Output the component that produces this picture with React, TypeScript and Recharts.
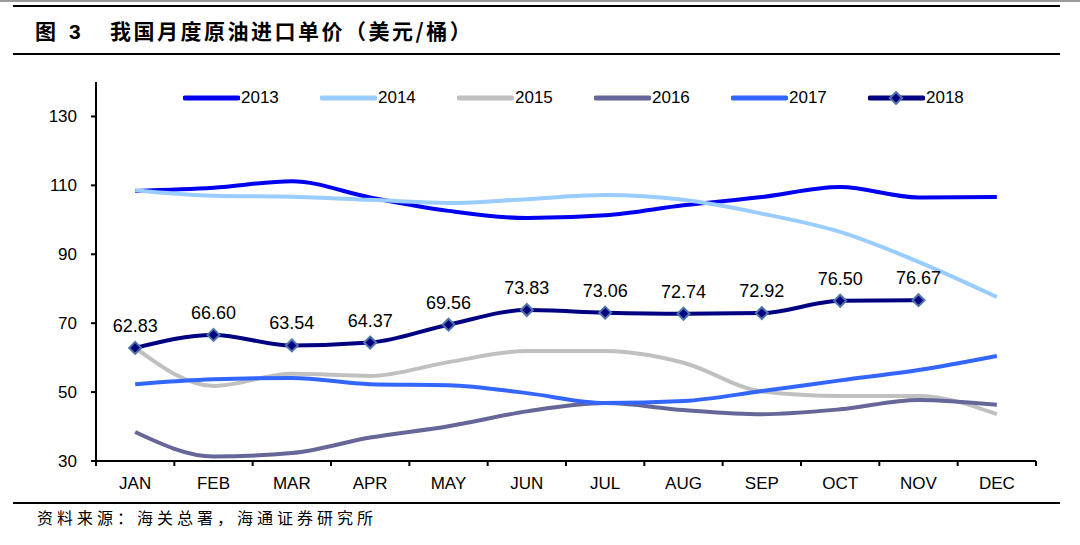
import React from "react";
import { LineChart, Line, XAxis, YAxis, Legend, LabelList } from "recharts";

const months = ["JAN", "FEB", "MAR", "APR", "MAY", "JUN", "JUL", "AUG", "SEP", "OCT", "NOV", "DEC"];
const y2013 = [108.4, 109.3, 111.2, 106.5, 102.6, 100.5, 101.3, 104.2, 106.6, 109.5, 106.5, 106.6];
const y2014 = [108.6, 107.0, 106.7, 105.8, 104.9, 106.0, 107.2, 105.8, 101.8, 96.5, 87.8, 77.6];
const y2015 = [62.83, 51.8, 55.3, 54.7, 58.7, 61.9, 61.9, 58.5, 50.2, 48.9, 48.9, 43.6];
const y2016 = [38.4, 31.3, 32.3, 36.8, 40.1, 44.4, 46.8, 44.8, 43.6, 45.0, 47.7, 46.3];
const y2017 = [52.3, 53.7, 54.1, 52.3, 52.0, 49.7, 46.8, 47.4, 50.3, 53.4, 56.4, 60.5];
const y2018: (number | null)[] = [62.83, 66.6, 63.54, 64.37, 69.56, 73.83, 73.06, 72.74, 72.92, 76.5, 76.67, null];
const yTicks = [30, 50, 70, 90, 110, 130];
const boundaryTicks = [0, 1, 2, 3, 4, 5, 6, 7, 8, 9, 10, 11, 12];

const series = [
  { key: "y2013", name: "2013", color: "#0000F0" },
  { key: "y2014", name: "2014", color: "#99CCFF" },
  { key: "y2015", name: "2015", color: "#C0C0C0" },
  { key: "y2016", name: "2016", color: "#666699" },
  { key: "y2017", name: "2017", color: "#3366FF" },
  { key: "y2018", name: "2018", color: "#000080" },
];

const data = months.map((m, i) => ({
  x: i + 0.5,
  month: m,
  y2013: y2013[i],
  y2014: y2014[i],
  y2015: y2015[i],
  y2016: y2016[i],
  y2017: y2017[i],
  y2018: y2018[i],
}));

const FONT = "'Liberation Sans', Arial, sans-serif";
const CJK = "'Noto Sans CJK SC', 'Noto Sans', sans-serif";

const Diamond = (props: any) => {
  const { cx, cy, index } = props;
  if (cx == null || cy == null || props.value == null) return <g key={"d" + index} />;
  const r = 6;
  return (
    <path
      key={"d" + index}
      d={`M${cx},${cy - r} L${cx + r},${cy} L${cx},${cy + r} L${cx - r},${cy} Z`}
      fill="#000080"
      stroke="#4F74A8"
      strokeWidth={2}
    />
  );
};

const renderLegend = (props: any) => {
  const { payload } = props;
  return (
    <div style={{ display: "flex", flexDirection: "row" }}>
      {(payload || []).map((p: any, i: number) => (
        <div key={i} style={{ width: 137, display: "flex", alignItems: "center", height: 20 }}>
          <svg width={57} height={14} style={{ display: "block" }}>
            <line x1={2} y1={7} x2={55} y2={7} stroke={p.color} strokeWidth={5} strokeLinecap="round" />
            {p.value === "2018" && (
              <path d="M28,1 L34,7 L28,13 L22,7 Z" fill="#000080" stroke="#4F74A8" strokeWidth={2} />
            )}
          </svg>
          <span style={{ fontFamily: FONT, fontSize: 17, color: "#000", marginLeft: 1 }}>{p.value}</span>
        </div>
      ))}
    </div>
  );
};

export default function App() {
  return (
    <div style={{ position: "absolute", top: 0, left: 0, width: 1080, height: 545, background: "#fff", overflow: "hidden" }}>
      <div style={{ position: "absolute", top: 0, left: 0, width: 1080, height: 2, background: "#9a9a9a" }} />
      <div style={{ position: "absolute", top: 5, left: 13, width: 1047, height: 2, background: "#000" }} />
      <div style={{ position: "absolute", top: 53, left: 13, width: 1047, height: 2, background: "#000" }} />
      <div style={{ position: "absolute", top: 502, left: 13, width: 1047, height: 2, background: "#000" }} />
      <div style={{ position: "absolute", top: 15, left: 35, fontFamily: CJK, fontSize: 21, fontWeight: 700, lineHeight: "30px", color: "#000", whiteSpace: "nowrap" }}>
        图<span style={{ fontFamily: FONT, marginLeft: 13 }}>3</span>
      </div>
      <div style={{ position: "absolute", top: 15, left: 110, fontFamily: CJK, fontSize: 21, fontWeight: 700, lineHeight: "30px", color: "#000", letterSpacing: 2.5, whiteSpace: "nowrap" }}>
        我国月度原油进口单价（美元/桶）
      </div>
      <div style={{ position: "absolute", top: 505, left: 37, fontFamily: CJK, fontSize: 16, lineHeight: "24px", color: "#000", letterSpacing: 4, whiteSpace: "nowrap" }}>
        资料来源：海关总署，海通证券研究所
      </div>
      <div style={{ position: "absolute", top: 0, left: 0 }}>
        <LineChart width={1080} height={545} data={data} margin={{ top: 82, right: 44, bottom: 43, left: 36 }}>
          <XAxis
            xAxisId="grid"
            dataKey="x"
            type="number"
            domain={[0, 12]}
            ticks={boundaryTicks}
            tickFormatter={() => ""}
            height={1}
            tickSize={5}
            axisLine={{ stroke: "#000", strokeWidth: 2 }}
            tickLine={{ stroke: "#000", strokeWidth: 2 }}
          />
          <XAxis
            xAxisId="m"
            dataKey="x"
            type="number"
            domain={[0, 12]}
            ticks={data.map((d) => d.x)}
            tickFormatter={(v: number) => months[Math.floor(v)]}
            height={40}
            axisLine={false}
            tickLine={false}
            tickSize={0}
            tickMargin={15}
            tick={{ fontFamily: FONT, fontSize: 17, fill: "#000" }}
          />
          <YAxis
            type="number"
            domain={[30, 140]}
            ticks={yTicks}
            width={60}
            tickSize={5}
            tickMargin={14}
            axisLine={{ stroke: "#000", strokeWidth: 2 }}
            tickLine={{ stroke: "#000", strokeWidth: 2 }}
            tick={{ fontFamily: FONT, fontSize: 17, fill: "#000" }}
            allowDataOverflow
          />
          <Legend
            layout="horizontal"
            verticalAlign="middle"
            align="center"
            content={renderLegend}
            wrapperStyle={{ position: "absolute", top: 88, left: 183, width: 840 }}
          />
          {series.map((s) => (
            <Line
              key={s.key}
              xAxisId="m"
              dataKey={s.key}
              name={s.name}
              type="monotone"
              stroke={s.color}
              strokeWidth={4}
              dot={s.key === "y2018" ? Diamond : false}
              activeDot={false}
              isAnimationActive={false}
              connectNulls={false}
            >
              {s.key === "y2018" && (
                <LabelList
                  dataKey="y2018"
                  position="top"
                  offset={16}
                  formatter={(v: any) => (v == null ? "" : Number(v).toFixed(2))}
                  style={{ fontFamily: FONT, fontSize: 18, fill: "#000" }}
                />
              )}
            </Line>
          ))}
        </LineChart>
      </div>
    </div>
  );
}
